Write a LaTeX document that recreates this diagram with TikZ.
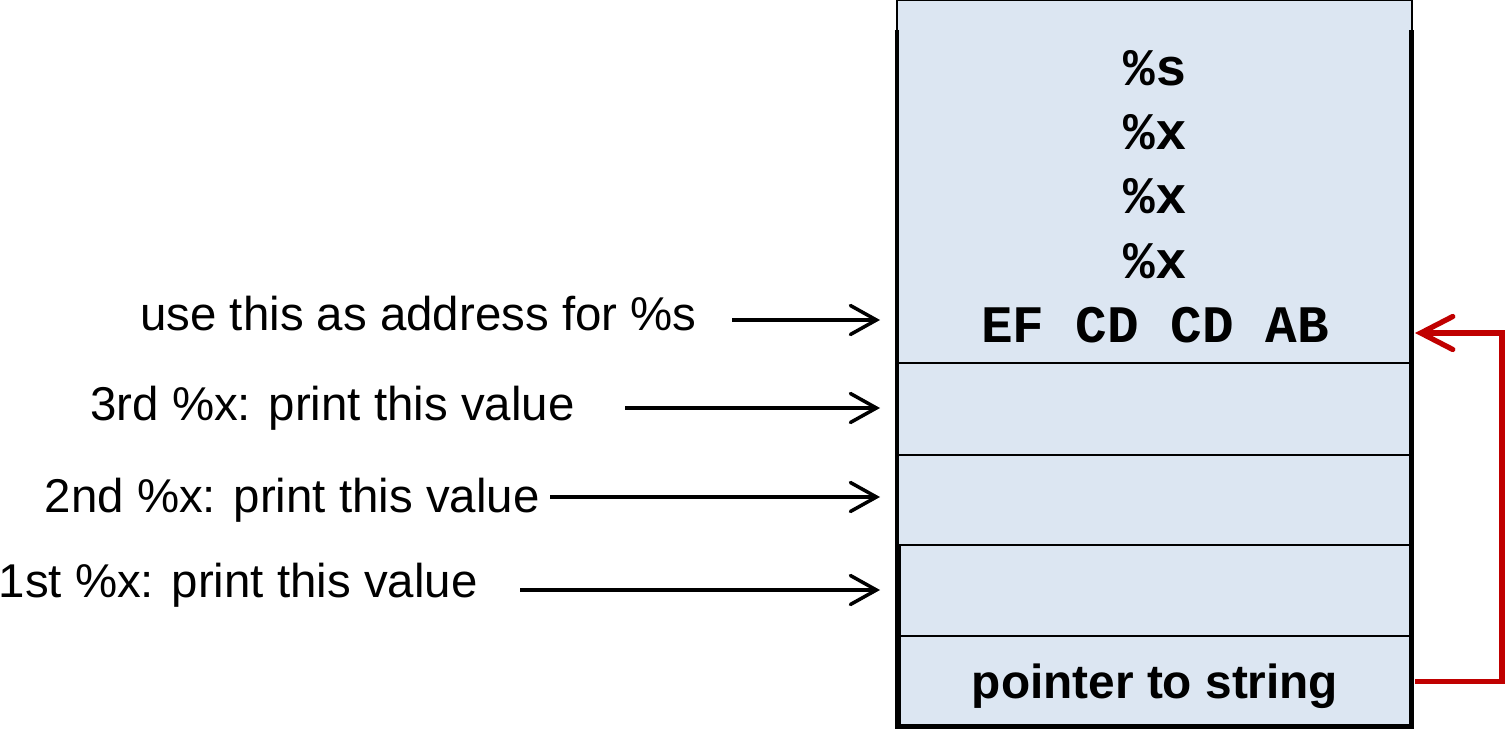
\documentclass[tikz,border=0pt]{standalone}
\usepackage{fontspec}
\setmainfont{Liberation Sans}
\setmonofont{Liberation Mono}
\usetikzlibrary{arrows.meta,positioning}
\definecolor{cellblue}{HTML}{DCE6F2}
\definecolor{ptrred}{HTML}{C00000}
\tikzset{
  cell/.style={
    draw=black,
    line width=1.1pt,
    fill=cellblue,
    anchor=north west,
    minimum width=10.3cm,
    inner sep=0pt,
    outer sep=0pt
  },
  lowcell/.style={
    cell,
    minimum width=10.2cm,
    minimum height=1.82cm
  },
  frame/.style={
    line width=2.8pt,
    draw=black
  },
  fmt/.style={
    font=\fontsize{30}{30}\selectfont\ttfamily\bfseries,
    anchor=base,
    inner sep=0pt
  },
  lbl/.style={
    font=\fontsize{27}{27}\selectfont,
    anchor=base east,
    inner sep=0pt
  },
  feed/.style={
    -{Straight Barb[length=0.52cm,width=0.58cm,line cap=round]},
    line width=2pt,
    shorten >=0.34cm
  },
  backptr/.style={
    -{Straight Barb[length=0.64cm,width=0.66cm,line cap=round]},
    line width=3pt,
    draw=ptrred
  }
}

\begin{document}
\begin{tikzpicture}[x=0.02cm,y=-0.02cm]
    \useasboundingbox (0,0) rectangle (1506,729);

    % stack cells, top to bottom
    \node[cell, minimum height=7.26cm] (str) at (897,0) {};
    \node[cell, minimum height=1.84cm] (v3) at (str.south west) {};
    \node[cell, minimum height=1.80cm] (v2) at (v3.south west) {};
    \node[lowcell] (v1) at ([xshift=0.06cm]v2.south west) {};
    \node[lowcell] (ptr) at (v1.south west) {};
    \draw[frame] (str.west |- 0,30) -- (str.west |- ptr.south) -- (str.east |- ptr.south) -- (str.east |- 0,30);

    % the format string
    \node[fmt] (fs) at (1155,86) {\%s};
    \node[fmt] (fx3) at (1155,150) {\%x};
    \node[fmt] (fx2) at (1155,214) {\%x};
    \node[fmt] (fx1) at (1155,278) {\%x};
    \node[fmt] (addr) at (1155,342) {EF CD CD AB};
    \node[font=\fontsize{27.2}{27.2}\selectfont\bfseries, anchor=base, inner sep=0pt] (ptrtxt) at (1155,698) {pointer to string};

    % what each argument slot is used for
    \node[lbl] (l4) at (697,330) {use this as address for \%s};
    \node[lbl] (l3) at (575,420) {3rd \%x: print this value};
    \node[lbl] (l2) at (540,512) {2nd \%x: print this value};
    \node[lbl] (l1) at (478,597) {1st \%x: print this value};

    \coordinate (s4) at (732,320);
    \coordinate (s3) at (625,408);
    \coordinate (s2) at (550,497);
    \coordinate (s1) at (520,590);
    \draw[feed] (s4) -- (s4 -| str.west);
    \draw[feed] (s3) -- (s3 -| str.west);
    \draw[feed] (s2) -- (s2 -| str.west);
    \draw[feed] (s1) -- (s1 -| str.west);

    % pointer back into the string
    \coordinate (strhit) at (1415,333);
    \draw[backptr] ([xshift=0.1cm]ptr.east) -- ++(87,0) |- (strhit);
\end{tikzpicture}
\end{document}
